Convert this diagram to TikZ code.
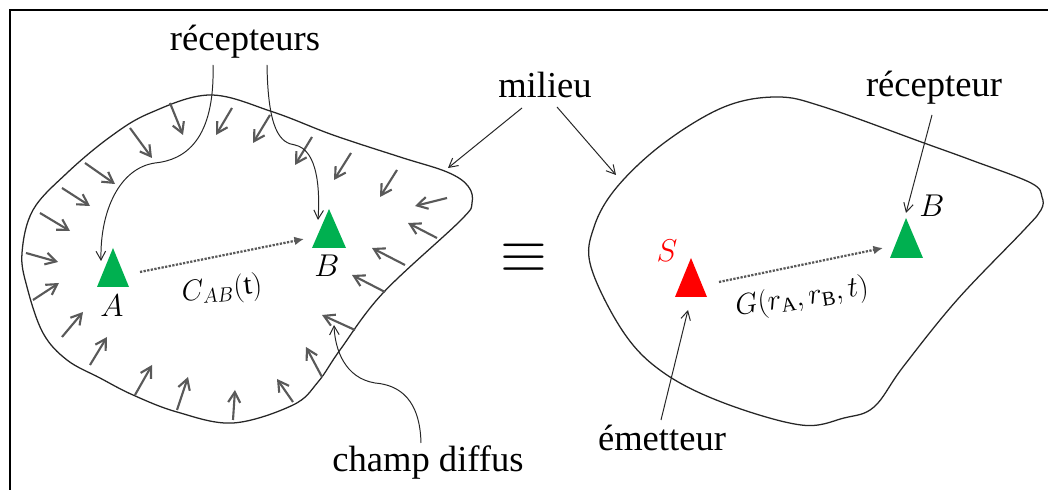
\documentclass[tikz,border=0pt]{standalone}
\usepackage{fontspec}
\setmainfont{Liberation Serif}
\usetikzlibrary{arrows.meta}
\definecolor{fieldgray}{HTML}{595959}
\definecolor{recgreen}{HTML}{00B050}
\definecolor{srcred}{HTML}{FF0000}
\begin{document}
\begin{tikzpicture}[x=0.025cm,y=-0.025cm,
  blob/.style={draw=black!85,line width=0.9pt},
  field/.style={draw=fieldgray,line width=1.5pt,-{Straight Barb[length=2.6mm,width=3mm]}},
  conn/.style={draw=black!85,line width=0.7pt,-{Straight Barb[length=2.2mm,width=2.4mm]}},
  corr/.style={draw=fieldgray,line width=1.6pt,densely dotted,-{Latex[length=2.4mm,width=2.2mm]}},
  lbl/.style={font=\fontsize{26}{30}\selectfont,inner sep=0pt},
  mlbl/.style={font=\fontsize{20.74}{24}\selectfont,inner sep=0pt},
  flbl/.style={font=\fontsize{20.74}{24}\selectfont,inner sep=0pt}]
\useasboundingbox (0,0) rectangle (1048,490);
\fill[white] (0,0) rectangle (1048,490);
% frame
\draw[line width=2pt] (10,495) -- (10,10) -- (1055,10);

% left medium
\draw[blob] plot[smooth cycle,tension=0.6] coordinates {
  (210,95) (273,112) (333,135) (400,157) (447,172) (468,186) (472,203) (460,221)
  (383,293) (340,350) (318,382) (293,405) (233,423) (177,412) (133,395) (100,378)
  (67,360) (43,333) (27,287) (22,253) (33,210) (67,173) (110,137) (150,113)};

% right medium
\draw[blob] plot[smooth cycle,tension=0.6] coordinates {
  (777,97) (824,107) (924,143) (971,160) (1031,183) (1042,197) (1041,210) (1024,230)
  (957,300) (903,367) (874,407) (844,418) (801,425) (724,403) (664,373)
  (624,333) (591,267) (594,227) (617,187) (664,143) (724,107)};

% diffuse field arrows
\foreach \xa/\ya/\xb/\yb in {170/103/183/135, 232/108/216/135, 270/115/253/143,
  312/137/295/165, 351/153/334/180, 397/170/380/197, 447/198/415/206,
  437/238/408/223, 405/265/372/248, 385/292/352/275, 355/330/322/315,
  322/377/306/347, 293/402/277/379, 233/420/235/390, 177/410/188/377,
  135/395/152/365, 90/365/107/337, 62/337/83/312, 33/300/59/283,
  26/253/58/262, 40/213/70/231, 62/188/90/206, 85/163/115/184, 130/128/152/158}
  \draw[field] (\xa,\ya) -- (\xb,\yb);

% receivers and source
\fill[recgreen] (97,287) -- (113,248) -- (129,287) -- cycle;
\fill[recgreen] (312,248) -- (329,209) -- (346,248) -- cycle;
\fill[srcred] (675,297) -- (691,258) -- (707,297) -- cycle;
\fill[recgreen] (890,258) -- (906,218) -- (923,258) -- cycle;

% coordinates
\coordinate (Aside) at (101,261);
\coordinate (Btop) at (318,220);
\coordinate (Aout) at (140,272);
\coordinate (Bin) at (304,239);
\coordinate (Sout) at (719,282);
\coordinate (Bin2) at (883,248);
\coordinate (B2top) at (906,213);
\coordinate (Sbot) at (688,310);
\coordinate (fieldtip) at (334,325);
\coordinate (medL) at (448,168);
\coordinate (medR) at (616,175);

% labels
\node[lbl] (recs) at (245,42) {récepteurs};
\node[lbl] (mil) at (545,85) {milieu};
\node[lbl] (rec) at (934,88) {récepteur};
\node[lbl] (emet) at (662,438) {émetteur};
\node[lbl] (champ) at (428,463) {champ diffus};
\node[font=\fontsize{24.88}{26}\selectfont,inner sep=0pt] (eq) at (524,258) {\scalebox{1.72}[1.75]{$\equiv$}};
\node[mlbl] (labA) at (112,306) {\scalebox{1.08}{$A$}};
\node[mlbl] (labB) at (327,266) {\scalebox{1.08}{$B$}};
\node[flbl,rotate=6] (cab) at (222,290) {$C_{AB}(\mathrm{t})$};
\node[mlbl,text=srcred] (labS) at (667,251) {\scalebox{1.08}{$S$}};
\node[mlbl] (labB2) at (932,206) {\scalebox{1.08}{$B$}};
\node[flbl,rotate=9] (gab) at (802,298) {$G(r_{\mathrm{A}},r_{\mathrm{B}},t)$};

% connectors
\coordinate (r1) at (213,65);
\coordinate (r2) at (267,65);
\draw[conn] (r1) .. controls (215,140) and (185,160) .. (155,163)
  .. controls (120,168) and (100,210) .. (Aside);
\draw[conn] (r2) .. controls (268,130) and (280,143) .. (295,145)
  .. controls (318,150) and (320,190) .. (Btop);
\coordinate (m1) at (522,108);
\coordinate (m2) at (557,107);
\draw[conn] (m1) -- (medL);
\draw[conn] (m2) -- (medR);
\coordinate (rc) at (932,115);
\draw[conn] (rc) -- (B2top);
\coordinate (em) at (661,420);
\draw[conn] (em) -- (Sbot);
\coordinate (ch) at (421,443);
\draw[conn] (ch) .. controls (420,400) and (400,385) .. (375,383)
  .. controls (345,378) and (335,350) .. (fieldtip);

% correlation / propagation
\draw[corr] (Aout) -- (Bin);
\draw[corr] (Sout) -- (Bin2);
\end{tikzpicture}
\end{document}
